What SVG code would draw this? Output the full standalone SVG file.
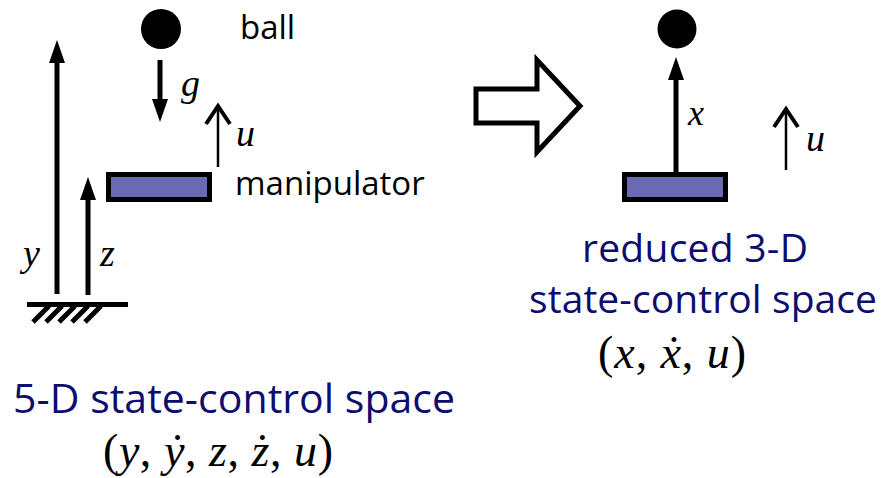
<svg xmlns="http://www.w3.org/2000/svg" width="884" height="478" viewBox="0 0 884 478">
  <style>
    .lbl { font-family: "Open Sans", "Liberation Sans", sans-serif; font-size: 33px; fill: #000; }
    .blue { font-family: "Open Sans", "Liberation Sans", sans-serif; fill: #0d0d6e; }
    .math { font-family: "Liberation Serif", "DejaVu Serif", serif; fill: #000; }
    .it { font-style: italic; }
    .shaft { stroke: #000; stroke-width: 5; fill: none; }
    .thin { stroke: #000; stroke-width: 2.5; fill: none; }
    .manip { fill: #6a6ab4; stroke: #000; stroke-width: 5; }
  </style>
  <defs>
    <marker id="head" markerUnits="userSpaceOnUse" viewBox="0 0 23 16" markerWidth="23" markerHeight="16" refX="0" refY="8" orient="auto">
      <path d="M0,0 L23,8 L0,16 Z" fill="#000"/>
    </marker>
    <marker id="open" markerUnits="userSpaceOnUse" viewBox="-3 -3 24 30" markerWidth="24" markerHeight="30" refX="18" refY="12" orient="auto" overflow="visible">
      <polyline points="0,0 18,12 0,24" fill="none" stroke="#000" stroke-width="4" stroke-linejoin="miter"/>
    </marker>
  </defs>
  <rect width="884" height="478" fill="#fff"/>

  <g id="ground">
    <line x1="27" y1="304.5" x2="128" y2="304.5" stroke="#000" stroke-width="5"/>
    <g stroke="#000" stroke-width="5">
      <line x1="33" y1="322" x2="49" y2="306"/>
      <line x1="46" y1="322" x2="62" y2="306"/>
      <line x1="59" y1="322" x2="75" y2="306"/>
      <line x1="72" y1="322" x2="88" y2="306"/>
      <line x1="85" y1="322" x2="101" y2="306"/>
    </g>
  </g>

  <g id="ball-left">
    <circle cx="161" cy="29" r="20" fill="#000"/>
    <text class="lbl" x="240" y="39">ball</text>
  </g>

  <g id="manipulator-left">
    <rect class="manip" x="108.5" y="174.5" width="101" height="25"/>
    <text class="lbl" x="235" y="195">manipulator</text>
  </g>

  <g id="reduction-arrow">
    <polygon points="476,89 537,89 537,60 580,106 537,152 537,123 476,123" fill="#fff" stroke="#000" stroke-width="5" stroke-linejoin="miter"/>
  </g>

  <g id="ball-right">
    <circle cx="677" cy="29" r="19.5" fill="#000"/>
  </g>

  <g id="manipulator-right">
    <rect class="manip" x="624.5" y="174.5" width="101" height="25"/>
  </g>

  <g id="connectors">
    <line class="shaft" x1="57" y1="294" x2="57" y2="63" marker-end="url(#head)"/>
    <line class="shaft" x1="88" y1="295" x2="88" y2="200" marker-end="url(#head)"/>
    <line class="shaft" x1="160" y1="60" x2="160" y2="99" marker-end="url(#head)"/>
    <line class="thin" x1="218" y1="167" x2="218" y2="106" marker-end="url(#open)"/>
    <line class="shaft" x1="676" y1="172" x2="676" y2="80" marker-end="url(#head)"/>
    <line class="thin" x1="786" y1="170" x2="786" y2="109" marker-end="url(#open)"/>
  </g>

  <g id="labels">
    <text class="math it" x="23" y="266" font-size="38">y</text>
    <text class="math it" x="100" y="266" font-size="38">z</text>
    <text class="math it" x="181" y="96" font-size="38">g</text>
    <text class="math it" x="236" y="146" font-size="38">u</text>
    <text class="math it" x="688" y="125" font-size="36">x</text>
    <text class="math it" x="806" y="151" font-size="38">u</text>
  </g>

  <g id="caption-left">
    <text class="blue" x="13" y="413" font-size="41" textLength="442" lengthAdjust="spacing">5-D state-control space</text>
    <text class="math" x="103" y="466" font-size="46" textLength="230">(<tspan class="it">y</tspan>, <tspan class="it">ẏ</tspan>, <tspan class="it">z</tspan>, <tspan class="it">ż</tspan>, <tspan class="it">u</tspan>)</text>
  </g>

  <g id="caption-right">
    <text class="blue" x="582" y="262" font-size="39" textLength="226" lengthAdjust="spacing">reduced 3-D</text>
    <text class="blue" x="529" y="313" font-size="39" textLength="348" lengthAdjust="spacing">state-control space</text>
    <text class="math" x="598" y="368" font-size="46" textLength="148">(<tspan class="it">x</tspan>, <tspan class="it">ẋ</tspan>, <tspan class="it">u</tspan>)</text>
  </g>
</svg>
